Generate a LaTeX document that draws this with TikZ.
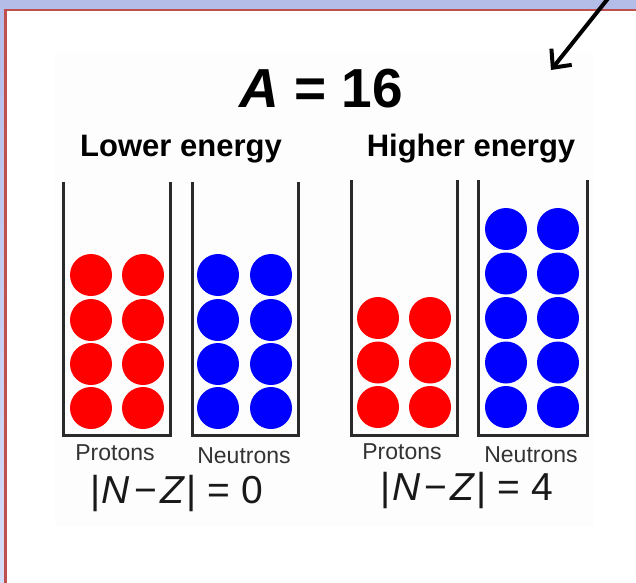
\documentclass[tikz,border=0pt]{standalone}
\usepackage{fontspec}
\setmainfont{Liberation Sans}
\usetikzlibrary{arrows.meta}
\definecolor{lav}{HTML}{B4BCE8}
\definecolor{lavlight}{HTML}{D6DDF8}
\definecolor{frame}{HTML}{C0504D}
\definecolor{pred}{HTML}{FF0000}
\definecolor{nblue}{HTML}{0000FF}
\definecolor{wall}{HTML}{2A2A2A}
\definecolor{faint}{HTML}{FDFDFD}
\tikzset{
  pball/.style={circle,fill=pred,minimum size=42pt,inner sep=0pt},
  nball/.style={circle,fill=nblue,minimum size=42pt,inner sep=0pt},
  wallline/.style={draw=wall,line width=3pt},
  lbl/.style={font=\fontsize{23}{25}\selectfont,text=black!80,inner sep=0pt},
  head/.style={font=\bfseries\fontsize{31}{34}\selectfont,inner sep=0pt},
  diff/.style={font=\fontsize{39}{42}\selectfont,inner sep=0pt,text=black!90},
}
\newcommand{\nzdiff}[1]{|\kern1pt\textit{N}\kern4pt−\kern4pt\textit{Z}\kern1pt| = #1}
\begin{document}
\begin{tikzpicture}[x=1pt,y=-1pt]
\useasboundingbox (0,0) rectangle (636,582);
\shade[top color=lav,bottom color=lavlight] (0,0) rectangle (636,582);
\fill[white] (5.5,10) rectangle (640,590);
\draw[frame,line width=2.6pt] (5.5,590) -- (5.5,10) -- (640,10);
\fill[faint] (55,53) rectangle (594,526);
% title
\node[font=\bfseries\fontsize{55}{58}\selectfont,inner sep=0pt,anchor=base] (title) at (321,107) {\textit{A} = 16};
\node[head,anchor=base] (lower) at (181,156) {Lower energy};
\node[head,anchor=base] (higher) at (471,156) {Higher energy};
% boxes
\draw[wallline] (63,182) |- (170,435) -- (170,182);
\draw[wallline] (192,182) |- (298,435) -- (298,182);
\draw[wallline] (351,180) |- (457,435) -- (457,180);
\draw[wallline] (478,180) |- (587,435) -- (587,180);
% left protons / neutrons
\foreach \r [count=\i] in {275,320,364,408}{
  \node[pball] (lpa\i) at (91,\r) {};
  \node[pball] (lpb\i) at (143,\r) {};
  \node[nball] (lna\i) at (218,\r) {};
  \node[nball] (lnb\i) at (271,\r) {};
}
\foreach \r [count=\i] in {318,362.5,407}{
  \node[pball] (rpa\i) at (378,\r) {};
  \node[pball] (rpb\i) at (430,\r) {};
}
\foreach \r [count=\i] in {229,273.5,318,362.5,407}{
  \node[nball] (rna\i) at (506,\r) {};
  \node[nball] (rnb\i) at (558,\r) {};
}
% labels
\node[lbl] (lp) at (115,453) {Protons};
\node[lbl] (ln) at (244,456) {Neutrons};
\node[lbl] (rp) at (402,452) {Protons};
\node[lbl] (rn) at (531,455) {Neutrons};
\node[diff] (d0) at (177,493) {\nzdiff{0}};
\node[diff] (d4) at (467,490) {\nzdiff{4}};
% arrow
\coordinate (arrS) at (610,-4);
\coordinate (arrE) at (551,70);
\draw[line width=4pt,-{Straight Barb[length=14pt,width=26pt,line width=4pt]}] (arrS) -- (arrE);
\end{tikzpicture}
\end{document}
